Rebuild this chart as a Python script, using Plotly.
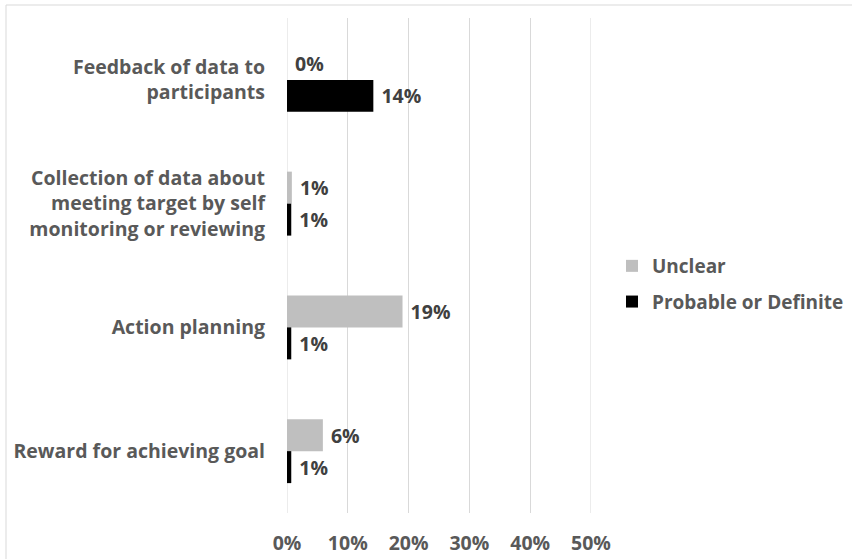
import plotly.graph_objects as go

categories = ["Feedback of data to<br>participants",
              "Collection of data about<br>meeting target by self<br>monitoring or reviewing",
              "Action planning",
              "Reward for achieving goal"]
unclear = [0.0, 0.008, 0.19, 0.059]
probable = [0.142, 0.007, 0.007, 0.007]
unclear_labels = ["0%", "1%", "19%", "6%"]
probable_labels = ["14%", "1%", "1%", "1%"]
x_ticks = [0, 0.1, 0.2, 0.3, 0.4, 0.5]
x_ticklabels = ["0%", "10%", "20%", "30%", "40%", "50%"]

FONT = "Open Sans"
FS = 19.5
W, H = 852, 559
L, R, T, B = 287, 5, 18, 46
PLOT_W = 304
pw, ph = W - L - R, H - T - B

fig = go.Figure()
fig.add_trace(go.Bar(
    name="Unclear", y=categories, x=unclear, orientation="h",
    marker=dict(color="#BFBFBF", line=dict(width=0)),
    text=[" " + t for t in unclear_labels], textposition="outside",
    textfont=dict(family=FONT, size=FS, color="#404040", weight="bold"),
    cliponaxis=False, legendgroup="u",
))
fig.add_trace(go.Bar(
    name="Probable or Definite", y=categories, x=probable, orientation="h",
    marker=dict(color="#000000", line=dict(width=0)),
    text=[" " + t for t in probable_labels], textposition="outside",
    textfont=dict(family=FONT, size=FS, color="#404040", weight="bold"),
    cliponaxis=False, legendgroup="p",
))

fig.update_layout(
    width=W, height=H,
    margin=dict(l=L, r=R, t=T, b=B, pad=0, autoexpand=False),
    barmode="group", bargap=0.483, bargroupgap=0,
    plot_bgcolor="white", paper_bgcolor="white",
    font=dict(family=FONT, color="#595959"),
    legend=dict(x=(612 - L) / pw, y=(H - B - 284) / ph, xanchor="left", yanchor="middle",
                font=dict(family=FONT, size=19, color="#595959", weight="bold"),
                itemwidth=30, tracegroupgap=8, bgcolor="rgba(0,0,0,0)"),
    xaxis=dict(domain=[0, PLOT_W / pw], range=[0, 0.5],
               tickvals=x_ticks, ticktext=x_ticklabels,
               showgrid=True, gridcolor="#D9D9D9", gridwidth=1,
               zeroline=False, showline=False, ticks="",
               tickfont=dict(family=FONT, size=FS, color="#595959", weight="bold"),
               ticklabelstandoff=16, fixedrange=True),
    yaxis=dict(autorange="reversed", showgrid=False, zeroline=False,
               showline=False, ticks="",
               tickfont=dict(family=FONT, size=FS, color="#595959", weight="bold"),
               ticklabelstandoff=21, fixedrange=True),
    shapes=[dict(type="line", xref="x", yref="paper", x0=0, x1=0, y0=0, y1=1,
                 line=dict(color="#D9D9D9", width=1), layer="below"),
            dict(type="line", xref="x", yref="paper", x0=0.5, x1=0.5, y0=0, y1=1,
                 line=dict(color="#D9D9D9", width=1), layer="below"),
            dict(type="rect", xref="paper", yref="paper",
                 x0=(6 - L) / pw, x1=2, y0=-1, y1=(H - B - 5) / ph,
                 line=dict(color="#D9D9D9", width=1), layer="below")],
)

fig.write_html("out.html")
